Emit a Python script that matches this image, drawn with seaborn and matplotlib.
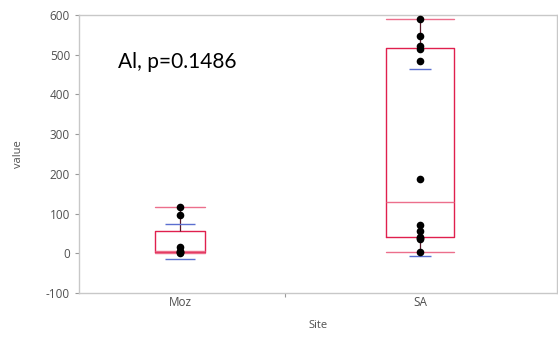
import numpy as np
import pandas as pd
import matplotlib
matplotlib.use('Agg')
import matplotlib.pyplot as plt
import seaborn as sns

# values
sites = ['Moz', 'SA']
moz_values = [0, 2, 4, 6, 17, 96, 117]
sa_values = [3, 36, 38, 41, 56, 72, 188, 484, 515, 523, 547, 590]
# blue std-dev lines (upper, lower) per site
sd_lines = {'Moz': [74, -14], 'SA': [465, -8]}
box_widths = {'Moz': 0.21, 'SA': 0.28}
annotation = 'Al, p=0.1486'

df = pd.DataFrame({
    'Site': ['Moz'] * len(moz_values) + ['SA'] * len(sa_values),
    'value': moz_values + sa_values,
})

sns.set_style('white')
plt.rcParams['font.family'] = ['Open Sans', 'DejaVu Sans']

fig = plt.figure(figsize=(5.58, 3.42), dpi=100)
ax = fig.add_axes([79 / 558, 1 - 293 / 342, 478 / 558, 278 / 342])

box_red = '#e0204e'
cap_pink = '#ec6f8c'
for site in sites:
    sub = df[df['Site'] == site]
    sns.boxplot(data=sub, x='Site', y='value', order=sites, ax=ax,
                fill=False, width=box_widths[site], whis=(0, 100),
                linewidth=1.0, color=box_red, showfliers=False,
                boxprops={'color': box_red},
                medianprops={'color': cap_pink, 'linewidth': 1.0},
                whiskerprops={'color': '#5a1a2a', 'linewidth': 0.9},
                capprops={'color': cap_pink, 'linewidth': 1.0},
                capwidths=box_widths[site])

sns.stripplot(data=df, x='Site', y='value', order=sites, ax=ax,
              jitter=False, color='black', size=5.5, zorder=5)

for i, site in enumerate(sites):
    half = 0.0625 if site == 'Moz' else 0.045
    ax.hlines(sd_lines[site], i - half, i + half, color='#5b6fd0', linewidth=1.0, zorder=4)

ax.set_xlim(-0.421, 1.571)
ax.set_ylim(-100, 600)
ax.set_yticks(range(-100, 601, 100))
ax.set_xticks([0.4375], minor=True)
ax.tick_params(axis='both', which='both', colors='#9a9a9a', labelcolor='#505050',
               labelsize=8.5, length=3, width=0.8, left=True, bottom=True)
ax.tick_params(axis='x', which='major', length=0, pad=2)
ax.set_yticklabels([f'{v}' if v >= 0 else f'-{abs(v)}' for v in range(-100, 601, 100)])
for sp in ax.spines.values():
    sp.set_color('#c8c8c8')
    sp.set_linewidth(1.0)

ax.set_xlabel('Site', fontsize=8, color='#505050', labelpad=8)
ax.set_ylabel('value', fontsize=8, color='#505050', labelpad=16)

ax.text(118 / 558, 1 - 62 / 342, annotation, transform=fig.transFigure,
        fontsize=15, va='center', ha='left', color='black',
        family=['Lato', 'DejaVu Sans'])

fig.savefig('out.png', dpi=100)
